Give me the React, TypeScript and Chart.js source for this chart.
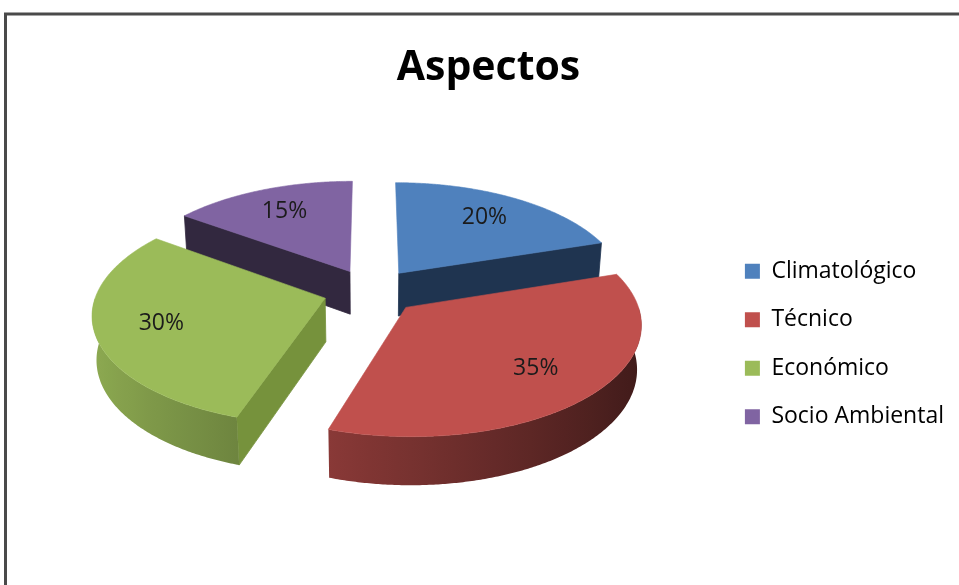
import React, { useEffect, useRef } from 'react';
import { Chart, registerables } from 'chart.js';

Chart.register(...registerables);

// ---- data ----
const categories = ['Climatológico', 'Técnico', 'Económico', 'Socio Ambiental'];
const shares = [20, 35, 30, 15];
const chartTitle = 'Aspectos';

// ---- styles ----
const topColors = ['#4F81BD', '#C0504D', '#9BBB59', '#8064A2'];
const faceColors = ['#1F3450', '#5A2221', '#76923C', '#32283F'];

const TILT_S = 0.47;
const TILT_C = Math.sqrt(1 - TILT_S * TILT_S);
const VIEW = 1500;
const EXPLODE = 48;
const THICK = 50;
const LIFT = 53;
const LABEL_AT = 0.72;
const DEG = Math.PI / 180;

function hexRgb(hex: string) {
  const n = parseInt(hex.slice(1), 16);
  return [(n >> 16) & 255, (n >> 8) & 255, n & 255];
}
function shade(hex: string, f: number) {
  const [r, g, b] = hexRgb(hex);
  const c = (v: number) => Math.max(0, Math.min(255, Math.round(v * f)));
  return `rgb(${c(r)},${c(g)},${c(b)})`;
}

const pie3d = {
  id: 'pie3d',
  beforeDraw(chart: any) {
    const ctx = chart.ctx;
    ctx.save();
    ctx.fillStyle = '#ffffff';
    ctx.fillRect(0, 0, chart.width, chart.height);
    ctx.strokeStyle = '#4a4a4a';
    ctx.lineWidth = 3;
    ctx.strokeRect(5.5, 14, chart.width + 20, chart.height + 20);
    ctx.restore();
  },
  beforeDatasetsDraw(chart: any) {
    const meta = chart.getDatasetMeta(0);
    const arcs = meta.data;
    if (!arcs.length) return false;
    const ctx = chart.ctx;
    const a0 = arcs[0];
    const cx = a0.x;
    const cy = a0.y - LIFT;
    const R = a0.outerRadius;
    const data: number[] = chart.data.datasets[0].data;
    const colors: string[] = chart.data.datasets[0].backgroundColor;
    const total = data.reduce((s, v) => s + v, 0);

    const slices = arcs.map((arc: any, i: number) => {
      const s = arc.startAngle;
      const e = arc.endAngle;
      const mid = (s + e) / 2;
      return {
        i, s, e, mid,
        ex: EXPLODE * Math.cos(mid),
        ey: EXPLODE * Math.sin(mid),
        color: colors[i],
        face: faceColors[i],
        value: data[i],
      };
    });

    const pt = (sl: any, th: number, r: number, h: number) => {
      const X = sl.ex + r * Math.cos(th);
      const Y = sl.ey + r * Math.sin(th);
      const d = VIEW - Y * TILT_C - h * TILT_S;
      const k = VIEW / d;
      return [cx + X * k, cy + (Y * TILT_S - h * TILT_C) * k];
    };

    const order = [...slices].sort((a, b) => Math.sin(a.mid) - Math.sin(b.mid));

    const face = (sl: any, th: number) => {
      const p1 = pt(sl, th, 0, 0);
      const p2 = pt(sl, th, R, 0);
      const p3 = pt(sl, th, R, -THICK);
      const p4 = pt(sl, th, 0, -THICK);
      ctx.beginPath();
      ctx.moveTo(p1[0], p1[1]);
      ctx.lineTo(p2[0], p2[1]);
      ctx.lineTo(p3[0], p3[1]);
      ctx.lineTo(p4[0], p4[1]);
      ctx.closePath();
      ctx.fillStyle = sl.face;
      ctx.fill();
      ctx.strokeStyle = sl.face;
      ctx.lineWidth = 0.8;
      ctx.stroke();
    };

    ctx.save();
    for (const sl of order) {
      // cut faces
      if (Math.cos(sl.s) < -1e-6) face(sl, sl.s);
      if (Math.cos(sl.e) > 1e-6) face(sl, sl.e);
      // outer wall (front half)
      const a = Math.max(sl.s, 0);
      const b = Math.min(sl.e, Math.PI);
      if (b > a) {
        const n = Math.max(2, Math.ceil((b - a) / (0.5 * DEG)));
        ctx.beginPath();
        for (let j = 0; j <= n; j++) {
          const th = a + ((b - a) * j) / n;
          const p = pt(sl, th, R, 0);
          if (j === 0) ctx.moveTo(p[0], p[1]);
          else ctx.lineTo(p[0], p[1]);
        }
        for (let j = n; j >= 0; j--) {
          const th = a + ((b - a) * j) / n;
          const p = pt(sl, th, R, -THICK);
          ctx.lineTo(p[0], p[1]);
        }
        ctx.closePath();
        const xl = pt(sl, b, R, 0)[0];
        const xr = pt(sl, a, R, 0)[0];
        const g = ctx.createLinearGradient(xl, 0, xr, 0);
        const m = 12;
        for (let j = 0; j <= m; j++) {
          const th = b - ((b - a) * j) / m;
          const x = pt(sl, th, R, 0)[0];
          let t = xr === xl ? 0 : (x - xl) / (xr - xl);
          t = Math.max(0, Math.min(1, t));
          g.addColorStop(t, shade(sl.color, 0.62 - 0.3 * Math.cos(th)));
        }
        ctx.fillStyle = g;
        ctx.fill();
      }
      // top
      const n = Math.max(2, Math.ceil((sl.e - sl.s) / (0.5 * DEG)));
      ctx.beginPath();
      const c0 = pt(sl, sl.mid, 0, 0);
      ctx.moveTo(c0[0], c0[1]);
      for (let j = 0; j <= n; j++) {
        const th = sl.s + ((sl.e - sl.s) * j) / n;
        const p = pt(sl, th, R, 0);
        ctx.lineTo(p[0], p[1]);
      }
      ctx.closePath();
      ctx.fillStyle = sl.color;
      ctx.fill();
      ctx.strokeStyle = sl.color;
      ctx.lineWidth = 0.6;
      ctx.stroke();
    }

    // labels
    ctx.fillStyle = '#1b1b1b';
    ctx.font = '23px "Open Sans", sans-serif';
    ctx.textAlign = 'center';
    ctx.textBaseline = 'middle';
    for (const sl of slices) {
      const p = pt(sl, sl.mid, R * LABEL_AT, 0);
      ctx.fillText(Math.round((sl.value / total) * 100) + '%', p[0], p[1]);
    }
    ctx.restore();
    return false;
  },
};

export default function App() {
  const ref = useRef<HTMLCanvasElement | null>(null);
  useEffect(() => {
    document.body.style.margin = '0';
    if (!ref.current) return;
    const chart = new Chart(ref.current, {
      type: 'pie',
      data: {
        labels: categories,
        datasets: [
          {
            data: shares,
            backgroundColor: topColors,
            borderWidth: 0,
          },
        ],
      },
      options: {
        responsive: false,
        animation: false,
        events: [],
        radius: 228,
        layout: { padding: { left: 23, right: 5, top: 0, bottom: 0 } },
        plugins: {
          title: {
            display: true,
            text: chartTitle,
            color: '#000',
            font: { family: '"Open Sans", sans-serif', size: 41, weight: 'bold' },
            padding: { top: 44, bottom: 10 },
          },
          legend: {
            position: 'right',
            fullSize: false,
            labels: {
              boxWidth: 15,
              boxHeight: 15,
              padding: 25.5,
              color: '#000',
              font: { family: '"Open Sans", sans-serif', size: 23 },
            },
          },
          tooltip: { enabled: false },
        },
      } as any,
      plugins: [pie3d as any],
    });
    return () => chart.destroy();
  }, []);
  return (
    <div style={{ width: 959, height: 585 }}>
      <canvas ref={ref} width={959} height={585} style={{ display: 'block' }} />
    </div>
  );
}
